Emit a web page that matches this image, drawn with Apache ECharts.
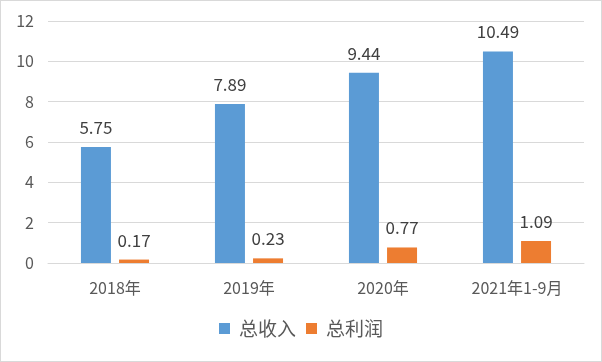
<!DOCTYPE html>
<html><head><meta charset="utf-8">
<script src="https://cdn.jsdelivr.net/npm/echarts@6/dist/echarts.min.js"></script>
<style>html,body{margin:0;padding:0;background:#fff}#c{width:600px;height:360px;border:1px solid #d9d9d9;}</style>
</head><body><div id="c"></div>
<script>
const categories = ['2018年','2019年','2020年','2021年1-9月'];
const revenue = [5.75, 7.89, 9.44, 10.49];
const profit = [0.17, 0.23, 0.77, 1.09];
const yTicks = {min:0, max:12, interval:2};
const font = '"Noto Sans CJK SC", "Liberation Sans", sans-serif';
const chart = echarts.init(document.getElementById('c'));
chart.setOption({
  animation:false,
  textStyle:{fontFamily:font},
  grid:{left:47, right:17, top:20, bottom:98},
  legend:{bottom:18, left:'center', itemWidth:11, itemHeight:11, itemGap:10,
    icon:'rect', textStyle:{fontSize:19, color:'#595959', fontFamily:font, padding:[0,0,0,4]}},
  xAxis:{type:'category', data:categories,
    axisLine:{lineStyle:{color:'#d9d9d9'}}, axisTick:{show:false},
    axisLabel:{fontSize:16, color:'#595959', margin:17}},
  yAxis:{type:'value', min:yTicks.min, max:yTicks.max, interval:yTicks.interval,
    axisLine:{show:false}, axisTick:{show:false},
    splitLine:{lineStyle:{color:'#d9d9d9'}},
    axisLabel:{fontSize:16, color:'#595959', margin:14}},
  series:[
    {name:'总收入', type:'bar', data:revenue, barWidth:30, barGap:'27%',
     itemStyle:{color:'#5B9BD5'},
     label:{show:true, position:'top', distance:11, fontSize:17, color:'#404040'}},
    {name:'总利润', type:'bar', data:profit, barWidth:30,
     itemStyle:{color:'#ED7D31'},
     label:{show:true, position:'top', distance:11, fontSize:17, color:'#404040'}}
  ]
});
</script></body></html>
